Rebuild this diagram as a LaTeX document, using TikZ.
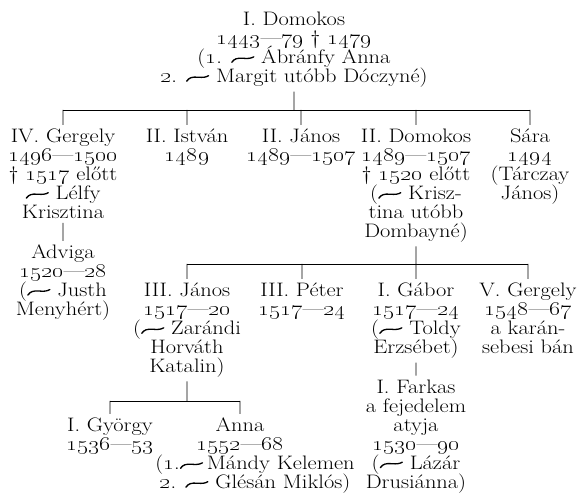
\documentclass[tikz,border=0pt]{standalone}
\usepackage{tikz}
\usetikzlibrary{positioning}

\newcommand{\Hazas}{\tikz[baseline=0pt]\draw[line width=1.3pt, line cap=round]
  (0pt,1.5pt) .. controls (2pt,5pt) and (4.5pt,6pt) .. (10pt,5.5pt)
  .. controls (14pt,5pt) and (17pt,5.5pt) .. (19pt,7pt);}
\newcommand{\Ev}[1]{\oldstylenums{#1}}
\newcommand{\Fej}{\rule{0pt}{14pt}}

\begin{document}
\begin{tikzpicture}
[x=1pt, y=-1pt, line width=0.8pt,
PersonNode/.style={anchor=north, align=center, inner sep=0pt, outer sep=4pt,
  xscale=1.15, transform shape,
  font={\fontsize{19.5}{18.9}\selectfont\lineskiplimit=-20pt\relax}}
]
\useasboundingbox (0,0) rectangle (579,494);

\node[PersonNode] (Domokos1) at (294,8) {\Fej I. Domokos\\ \Ev{1443}—\Ev{79} \textdagger\ \Ev{1479}\\ (\Ev{1}. \Hazas\ Ábránfy Anna\\ \Ev{2}. \Hazas\ Margit utóbb Dóczyné)};

\node[PersonNode] (Gergely4) at (63,125) {\Fej IV. Gergely\\ \Ev{1496}—\Ev{1500}\\ \textdagger\ \Ev{1517} előtt\\ \Hazas\ Lélfy\\ Krisztina};
\node[PersonNode] (Istvan2) at (187,125) {\Fej II. István\\ \Ev{1489}};
\node[PersonNode] (Janos2) at (301,125) {\Fej II. János\\ \Ev{1489}—\Ev{1507}};
\node[PersonNode] (Domokos2) at (416,125) {\Fej II. Domokos\\ \Ev{1489}—\Ev{1507}\\ \textdagger\ \Ev{1520} előtt\\ (\Hazas\ Krisz-\\ tina utóbb\\ Dombayné)};
\node[PersonNode] (Sara) at (530,125) {\Fej Sára\\ \Ev{1494}\\ (Tárczay\\ János)};
\node[PersonNode] (Adviga) [below=18pt of Gergely4] {\Fej Adviga\\ \Ev{1520}—\Ev{28}\\ (\Hazas\ Justh\\ Menyhért)};

\node[PersonNode] (Janos3) at (187,279) {\Fej III. János\\ \Ev{1517}—\Ev{20}\\ (\Hazas\ Zarándi\\ Horváth\\ Katalin)};
\node[PersonNode] (Peter3) at (302,279) {\Fej III. Péter\\ \Ev{1517}—\Ev{24}};
\node[PersonNode] (Gabor1) at (416,279) {\Fej I. Gábor\\ \Ev{1517}—\Ev{24}\\ (\Hazas\ Toldy\\ Erzsébet)};
\node[PersonNode] (Gergely5) at (528,279) {\Fej V. Gergely\\ \Ev{1548}—\Ev{67}\\ a karán-\\ sebesi bán};
\node[PersonNode] (Farkas1) [below=13pt of Gabor1] {\Fej I. Farkas\\ a fejedelem\\ atyja\\ \Ev{1530}—\Ev{90}\\ (\Hazas\ Lázár\\ Drusiánna)};

\node[PersonNode] (Gyorgy1) at (110,414) {\Fej I. György\\ \Ev{1536}—\Ev{53}};
\node[PersonNode] (Anna) at (240,414) {\Fej Anna\\ \Ev{1552}—\Ev{68}\\ \hspace*{26pt}(\Ev{1}.\Hazas\,Mándy Kelemen\\ \hspace*{26pt}\Ev{2}. \Hazas\ Glésán Miklós)};

\coordinate (Bar1) at (294,110);
\coordinate (Bar2) at (416,264);
\coordinate (Bar3) at (187,401);

% first generation
\draw (Domokos1) -- (Bar1);
\draw (Gergely4 |- Bar1) -- (Sara |- Bar1);
\draw (Gergely4 |- Bar1) -- (Gergely4);
\draw (Istvan2 |- Bar1) -- (Istvan2);
\draw (Janos2 |- Bar1) -- (Janos2);
\draw (Domokos2 |- Bar1) -- (Domokos2);
\draw (Sara |- Bar1) -- (Sara);
\draw (Gergely4) -- (Adviga);

% sons of II. Domokos
\draw (Domokos2) -- (Bar2);
\draw (Janos3 |- Bar2) -- (Gergely5 |- Bar2);
\draw (Janos3 |- Bar2) -- (Janos3);
\draw (Peter3 |- Bar2) -- (Peter3);
\draw (Gabor1 |- Bar2) -- (Gabor1);
\draw (Gergely5 |- Bar2) -- (Gergely5);
\draw (Gabor1) -- (Farkas1);

% children of III. Janos
\draw (Janos3) -- (Bar3);
\draw (Gyorgy1 |- Bar3) -- (Anna |- Bar3);
\draw (Gyorgy1 |- Bar3) -- (Gyorgy1);
\draw (Anna |- Bar3) -- (Anna);
\end{tikzpicture}
\end{document}
